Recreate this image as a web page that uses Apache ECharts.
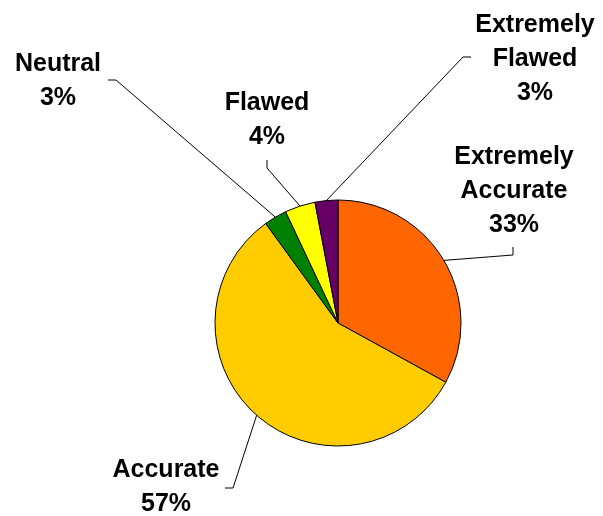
<!DOCTYPE html>
<html>
<head>
<meta charset="utf-8">
<script src="https://cdn.jsdelivr.net/npm/echarts@6/dist/echarts.min.js"></script>
<style>
html,body{margin:0;padding:0;background:#fff;}
#chart{width:603px;height:516px;}
</style>
</head>
<body>
<div id="chart"></div>
<script>
// Data
const categories = ['Extremely\nAccurate', 'Accurate', 'Neutral', 'Flawed', 'Extremely\nFlawed'];
const values = [33, 57, 3, 4, 3];
const colors = ['#FF6600', '#FFCC00', '#008000', '#FFFF00', '#660066'];

// Label placement (layout only): label block centre and leader-line bend points
const labelLayouts = [
  { x: 514, y: 191, pts: [[513, 255], [513, 247]] },
  { x: 166, y: 487, pts: [[233, 488], [225, 488]] },
  { x: 58,  y: 81,  pts: [[116, 80], [108, 80]] },
  { x: 267, y: 120, pts: [[267, 168], [267, 160]] },
  { x: 535, y: 59,  pts: [[463, 57], [471, 57]] }
];

const chart = echarts.init(document.getElementById('chart'), null, {renderer: 'canvas'});
chart.setOption({
  animation: false,
  backgroundColor: '#ffffff',
  series: [{
    type: 'pie',
    center: [338, 323],
    radius: 123,
    startAngle: 90,
    clockwise: true,
    avoidLabelOverlap: false,
    data: categories.map((c, i) => ({ name: c, value: values[i], itemStyle: { color: colors[i] } })),
    itemStyle: { borderColor: '#000', borderWidth: 1 },
    label: {
      show: true,
      position: 'outside',
      formatter: p => p.name + '\n' + p.value + '%',
      fontFamily: '"Liberation Sans", Arial, sans-serif',
      fontWeight: 'bold',
      fontSize: 25,
      lineHeight: 34,
      color: '#000',
      align: 'center'
    },
    labelLine: { show: true, length: 20, length2: 10, lineStyle: { color: '#000', width: 1 } },
    emphasis: { disabled: true },
    labelLayout: function (params) {
      const L = labelLayouts[params.dataIndex];
      const start = params.labelLinePoints ? params.labelLinePoints[0] : null;
      const res = { x: L.x, y: L.y, align: 'center', verticalAlign: 'middle' };
      if (start) res.labelLinePoints = [start].concat(L.pts);
      return res;
    }
  }]
});
</script>
</body>
</html>
